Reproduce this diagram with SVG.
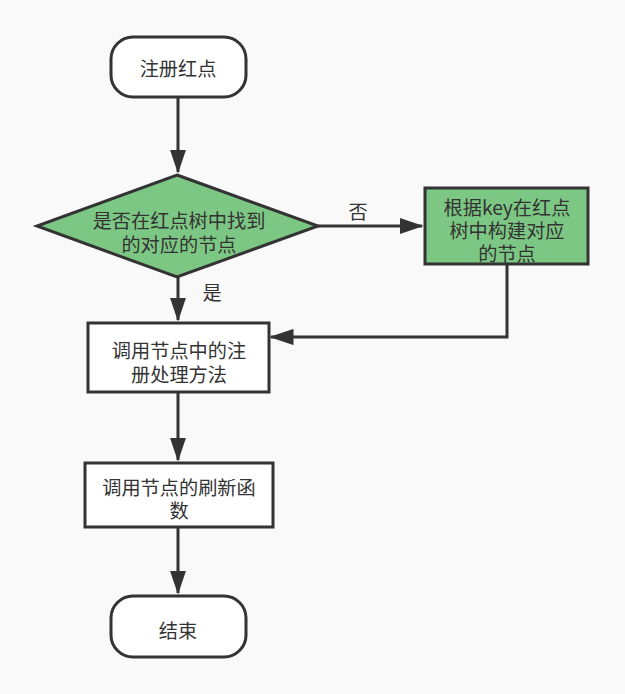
<svg xmlns="http://www.w3.org/2000/svg" width="625" height="694" viewBox="0 0 625 694">
<style>
.t{font-family:"Noto Sans CJK SC","Microsoft YaHei",sans-serif;font-size:19.2px;fill:#333;text-anchor:middle;dominant-baseline:central}
.w{fill:#fff;stroke:#333;stroke-width:3}
.g{fill:#7dc784;stroke:#333;stroke-width:3}
.c{fill:none;stroke:#333;stroke-width:3}
</style>
<defs>
<marker id="a" markerWidth="8" markerHeight="5.4" refX="7.5" refY="2.7" orient="auto" markerUnits="strokeWidth">
<path d="M0,0 L8,2.7 L0,5.4 Z" fill="#333"/>
</marker>
</defs>
<rect width="625" height="694" fill="#f9f9f9"/>
<g id="connectors">
<line class="c" x1="178" y1="97" x2="178" y2="172" marker-end="url(#a)"/>
<line class="c" x1="318" y1="226" x2="422" y2="226" marker-end="url(#a)"/>
<polyline class="c" points="507,264 507,337 271,337" marker-end="url(#a)"/>
<line class="c" x1="178" y1="277" x2="178" y2="320" marker-end="url(#a)"/>
<line class="c" x1="178" y1="392" x2="178" y2="460" marker-end="url(#a)"/>
<line class="c" x1="178" y1="527" x2="178" y2="593" marker-end="url(#a)"/>
<text class="t" x="358" y="211">否</text>
<text class="t" x="212" y="292">是</text>
</g>
<g id="start">
<rect class="w" x="111" y="37" width="135" height="60" rx="22"/>
<text class="t" x="178" y="68">注册红点</text>
</g>
<g id="decision">
<polygon class="g" points="177,175 318,226 177,277 37,226"/>
<text class="t" x="179" y="220">是否在红点树中找到</text>
<text class="t" x="179" y="244">的对应的节点</text>
</g>
<g id="build">
<rect class="g" x="425" y="188" width="163" height="76"/>
<text class="t" x="507" y="207">根据key在红点</text>
<text class="t" x="507" y="230">树中构建对应</text>
<text class="t" x="507" y="253">的节点</text>
</g>
<g id="register">
<rect class="w" x="88" y="323" width="181" height="69"/>
<text class="t" x="179" y="350">调用节点中的注</text>
<text class="t" x="179" y="374">册处理方法</text>
</g>
<g id="refresh">
<rect class="w" x="85" y="463" width="188" height="64"/>
<text class="t" x="179" y="487">调用节点的刷新函</text>
<text class="t" x="179" y="510">数</text>
</g>
<g id="end">
<rect class="w" x="111" y="596" width="135" height="61" rx="22"/>
<text class="t" x="178" y="630">结束</text>
</g>
</svg>
